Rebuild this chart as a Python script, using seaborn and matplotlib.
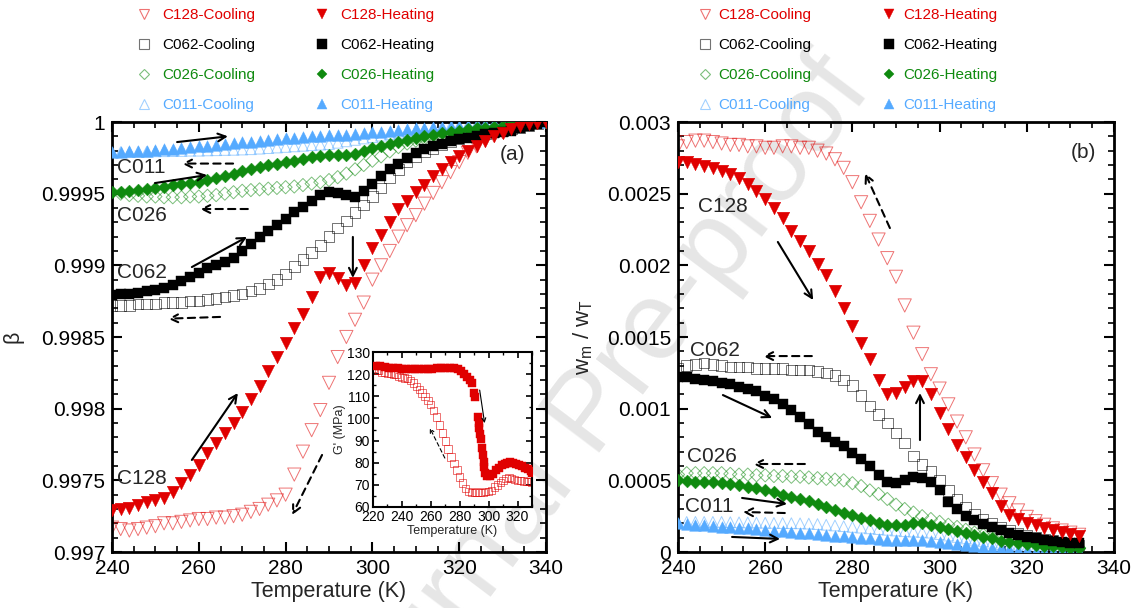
import numpy as np
import matplotlib
matplotlib.use("Agg")
import matplotlib.pyplot as plt
from matplotlib.colors import to_rgba
from matplotlib.lines import Line2D
from matplotlib.ticker import MultipleLocator
import seaborn as sns

sns.set_style("ticks")
plt.rcParams["font.family"] = ["Liberation Sans", "DejaVu Sans"]
plt.rcParams["mathtext.fontset"] = "custom"
plt.rcParams["mathtext.rm"] = "Liberation Sans"
plt.rcParams["mathtext.it"] = "Liberation Sans"

RED = "#e00000"
BLACK = "#000000"
GREEN = "#0f8a0f"
BLUE = "#55aaff"

# ---------------- panel (a): beta vs temperature ----------------
temp_a = np.arange(240, 341, 2)  # K
# 1 - beta, in units of 1e-4
dbeta_c128_heat = [27.1, 27.0, 26.9, 26.7, 26.5, 26.4, 26.2, 25.8, 25.2, 24.6, 23.9, 23.1, 22.4,
                   21.7, 21.0, 20.2, 19.3, 18.4, 17.4, 16.4, 15.4, 14.4, 13.4, 12.2, 10.8, 10.5,
                   10.9, 11.4, 11.2, 10.0, 8.8, 7.9, 7.0, 6.1, 5.5, 4.9, 4.4, 3.8, 3.3, 2.8, 2.35,
                   2.0, 1.65, 1.3, 1.0, 0.75, 0.5, 0.3, 0.15, 0.05, 0.0]
dbeta_c128_cool = [28.3, 28.4, 28.5, 28.4, 28.3, 28.2, 28.0, 28.0, 27.9, 27.8, 27.7, 27.7, 27.6,
                   27.6, 27.5, 27.4, 27.2, 27.0, 26.7, 26.4, 26.0, 24.6, 23.0, 21.5, 20.1, 18.2,
                   16.4, 15.0, 13.8, 12.6, 11.0, 10.0, 9.0, 8.0, 7.2, 6.5, 5.7, 4.95, 4.2, 3.5, 2.8,
                   2.15, 1.7, 1.3, 0.95, 0.7, 0.35, 0.2, 0.1, 0.05, 0.0]
dbeta_c062_heat = [12.1, 12.0, 12.0, 11.9, 11.8, 11.7, 11.6, 11.4, 11.1, 10.8, 10.5, 10.2, 10.0,
                   9.8, 9.5, 9.0, 8.5, 8.0, 7.6, 7.2, 6.8, 6.3, 5.9, 5.5, 5.1, 4.9, 4.95, 5.1, 5.2,
                   4.8, 4.3, 3.8, 3.3, 2.9, 2.5, 2.15, 1.9, 1.7, 1.5, 1.35, 1.2, 1.1, 0.95, 0.85,
                   0.75, 0.7, 0.6, 0.45, 0.3, 0.15, 0.0]
dbeta_c062_cool = [12.8, 12.8, 12.8, 12.7, 12.7, 12.7, 12.6, 12.6, 12.6, 12.5, 12.5, 12.4, 12.3,
                   12.2, 12.1, 12.0, 11.8, 11.6, 11.3, 11.0, 10.6, 10.1, 9.6, 9.1, 8.6, 8.0, 7.4,
                   6.9, 6.3, 5.8, 5.2, 4.6, 3.9, 3.3, 2.8, 2.4, 2.1, 1.85, 1.6, 1.35, 1.15, 1.0,
                   0.9, 0.8, 0.7, 0.6, 0.5, 0.4, 0.25, 0.1, 0.0]
dbeta_c026_heat = [4.9, 4.85, 4.8, 4.75, 4.7, 4.6, 4.5, 4.4, 4.35, 4.25, 4.2, 4.05, 3.9, 3.75,
                   3.6, 3.45, 3.3, 3.15, 3.0, 2.9, 2.8, 2.7, 2.6, 2.45, 2.35, 2.3, 2.3, 2.3, 2.2,
                   2.0, 1.8, 1.65, 1.5, 1.4, 1.25, 1.1, 1.0, 0.9, 0.8, 0.7, 0.6, 0.52, 0.45, 0.4,
                   0.32, 0.25, 0.17, 0.1, 0.05, 0.02, 0.0]
dbeta_c026_cool = [4.9, 5.0, 5.1, 5.15, 5.2, 5.2, 5.25, 5.25, 5.25, 5.2, 5.2, 5.15, 5.1, 5.0,
                   4.9, 4.8, 4.75, 4.7, 4.65, 4.6, 4.55, 4.5, 4.4, 4.3, 4.2, 4.05, 3.85, 3.6, 3.3,
                   3.0, 2.7, 2.4, 2.05, 1.75, 1.5, 1.3, 1.15, 1.05, 0.95, 0.85, 0.8, 0.72, 0.62,
                   0.52, 0.45, 0.4, 0.3, 0.2, 0.12, 0.05, 0.0]
dbeta_c011_heat = [2.1, 2.1, 2.05, 2.0, 2.0, 1.95, 1.9, 1.85, 1.8, 1.75, 1.7, 1.65, 1.6, 1.52,
                   1.47, 1.42, 1.37, 1.3, 1.25, 1.2, 1.15, 1.1, 1.05, 1.0, 0.95, 0.92, 0.9, 0.88,
                   0.82, 0.77, 0.72, 0.67, 0.6, 0.55, 0.5, 0.45, 0.4, 0.37, 0.33, 0.3, 0.27, 0.22,
                   0.17, 0.12, 0.08, 0.04, 0.02, 0.0, 0.0, 0.0, 0.0]
dbeta_c011_cool = [2.1, 2.1, 2.1, 2.08, 2.07, 2.05, 2.04, 2.03, 2.02, 2.0, 2.0, 1.98, 1.97, 1.95,
                   1.94, 1.92, 1.9, 1.86, 1.82, 1.78, 1.74, 1.7, 1.66, 1.62, 1.58, 1.54, 1.45,
                   1.35, 1.25, 1.15, 1.05, 0.95, 0.85, 0.75, 0.65, 0.58, 0.5, 0.43, 0.36, 0.3,
                   0.25, 0.2, 0.15, 0.1, 0.06, 0.03, 0.01, 0.0, 0.0, 0.0, 0.0]

# ---------------- panel (b): w_m / w_T vs temperature ----------------
temp_b = np.arange(240, 333, 2)  # K
# w_m / w_T, in units of 1e-4
wr_c128_cool = [28.3, 28.6, 28.7, 28.7, 28.6, 28.5, 28.4, 28.4, 28.3, 28.3, 28.2, 28.2, 28.3,
                28.3, 28.2, 28.2, 28.0, 27.8, 27.4, 26.8, 25.8, 24.4, 23.1, 21.8, 20.5, 19.2,
                17.2, 15.3, 13.8, 12.4, 11.4, 10.3, 9.1, 8.0, 6.8, 5.7, 4.8, 4.0, 3.4, 2.9, 2.45,
                2.15, 1.9, 1.65, 1.5, 1.35, 1.2]
wr_c128_heat = [27.2, 27.2, 27.1, 26.9, 26.8, 26.6, 26.4, 26.1, 25.7, 25.2, 24.6, 24.0, 23.3,
                22.4, 21.7, 21.0, 20.1, 19.3, 18.2, 17.0, 15.8, 14.6, 13.5, 12.0, 11.0, 11.1,
                11.5, 11.9, 11.9, 11.0, 9.7, 8.6, 7.5, 6.6, 5.7, 4.9, 4.1, 3.2, 2.6, 2.3, 2.0,
                1.85, 1.7, 1.55, 1.4, 1.25, 1.15]
wr_c062_cool = [12.8, 13.0, 13.1, 13.2, 13.1, 13.0, 12.9, 12.9, 12.9, 12.8, 12.8, 12.8, 12.8,
                12.7, 12.7, 12.7, 12.6, 12.5, 12.3, 12.0, 11.6, 10.9, 10.2, 9.6, 9.0, 8.3, 7.6,
                6.7, 6.1, 5.6, 5.0, 4.3, 3.7, 3.1, 2.6, 2.3, 2.0, 1.7, 1.5, 1.3, 1.2, 1.05, 0.9,
                0.8, 0.7, 0.55, 0.5]
wr_c062_heat = [12.2, 12.2, 12.1, 12.0, 11.9, 11.8, 11.7, 11.5, 11.35, 11.2, 10.9, 10.7, 10.3,
                9.9, 9.4, 8.9, 8.4, 8.0, 7.7, 7.4, 6.9, 6.5, 6.0, 5.4, 4.9, 4.8, 5.0, 5.2, 5.15,
                4.9, 4.3, 3.5, 3.0, 2.5, 2.2, 1.95, 1.75, 1.55, 1.35, 1.2, 1.05, 0.95, 0.85,
                0.75, 0.7, 0.65, 0.6]
wr_c026_cool = [5.4, 5.5, 5.5, 5.5, 5.5, 5.5, 5.45, 5.4, 5.4, 5.35, 5.35, 5.3, 5.3, 5.25, 5.25,
                5.2, 5.15, 5.1, 5.05, 5.0, 4.8, 4.6, 4.3, 4.05, 3.7, 3.3, 3.0, 2.75, 2.5, 2.3,
                2.1, 1.9, 1.75, 1.55, 1.35, 1.2, 1.05, 0.95, 0.85, 0.75, 0.65, 0.55, 0.45, 0.4,
                0.35, 0.3, 0.28]
wr_c026_heat = [5.0, 4.95, 4.9, 4.9, 4.85, 4.8, 4.75, 4.65, 4.55, 4.45, 4.3, 4.2, 4.0, 3.85,
                3.7, 3.55, 3.35, 3.15, 2.95, 2.75, 2.55, 2.4, 2.2, 2.05, 1.9, 1.85, 1.9, 2.05,
                2.05, 1.9, 1.75, 1.6, 1.45, 1.3, 1.2, 1.05, 0.95, 0.8, 0.7, 0.62, 0.55, 0.5,
                0.45, 0.4, 0.35, 0.3, 0.28]
wr_c011_cool = [2.1, 2.1, 2.1, 2.1, 2.1, 2.1, 2.08, 2.07, 2.06, 2.05, 2.04, 2.03, 2.02, 2.01,
                2.0, 1.98, 1.95, 1.9, 1.85, 1.8, 1.75, 1.7, 1.65, 1.6, 1.55, 1.5, 1.45, 1.42,
                1.4, 1.35, 1.25, 1.15, 1.05, 0.95, 0.85, 0.75, 0.65, 0.55, 0.45, 0.38, 0.3,
                0.25, 0.2, 0.15, 0.12, 0.1, 0.08]
wr_c011_heat = [2.0, 1.95, 1.9, 1.85, 1.8, 1.75, 1.72, 1.68, 1.64, 1.6, 1.55, 1.5, 1.45, 1.4,
                1.35, 1.3, 1.25, 1.2, 1.15, 1.1, 1.05, 1.0, 0.95, 0.9, 0.85, 0.82, 0.82, 0.85,
                0.82, 0.75, 0.68, 0.62, 0.55, 0.48, 0.42, 0.36, 0.3, 0.25, 0.2, 0.16, 0.12, 0.1,
                0.08, 0.06, 0.05, 0.04, 0.03]

# ---------------- inset: storage modulus G' of C128 ----------------
inset_temp_heat = [222, 225, 228, 231, 234, 237, 240, 243, 246, 249, 252, 255, 258, 261, 264,
                   267, 270, 273, 276, 279, 281, 283, 285, 287, 288.5, 290, 290.3, 292.5, 293,
                   293.5, 294, 294.5, 295.5, 296, 296.5, 297, 297.8, 299, 301, 303, 305, 307,
                   309, 311, 313, 315, 317, 319, 321, 323, 325, 327, 329, 330]
inset_g_heat = [123.5, 123.6, 123.3, 123.0, 122.8, 122.6, 122.5, 122.4, 122.4, 122.3, 122.3,
                122.3, 122.4, 122.5, 122.6, 122.7, 122.8, 122.9, 122.8, 122.2, 121.3, 120.2,
                118.8, 117.2, 115.8, 111.5, 109.5, 100.5, 98.0, 95.5, 93.0, 90.5, 86.5, 83.5,
                80.5, 78.0, 75.5, 74.0, 74.0, 75.0, 76.5, 77.8, 78.8, 79.5, 80.0, 80.2, 80.0,
                79.6, 79.0, 78.3, 77.6, 77.0, 76.2, 75.5]
inset_temp_cool = [220, 222, 224, 226, 228, 230, 232, 234, 236, 238, 240, 242, 244, 246, 248,
                   250, 252, 254, 256, 258, 260, 262, 264, 266, 268, 270, 272, 274, 276, 278,
                   280, 282, 284, 286, 288, 290, 292, 294, 296, 298, 300, 302, 304, 306, 308,
                   310, 312, 314, 316, 318, 320, 322, 324, 326, 328, 330]
inset_g_cool = [122.8, 121.5, 121.5, 120.8, 121.0, 120.5, 120.5, 120.0, 120.0, 119.0, 118.5,
                118.2, 118.0, 117.0, 116.0, 114.5, 113.0, 111.5, 110.0, 108.2, 106.3, 103.5,
                100.6, 97.0, 93.4, 89.8, 86.2, 82.6, 79.5, 76.7, 73.5, 70.8, 68.5, 67.0, 66.5,
                66.5, 66.8, 66.5, 66.5, 67.0, 67.0, 67.5, 69.0, 70.0, 71.0, 72.0, 72.8, 73.2,
                73.0, 72.5, 72.0, 72.0, 71.8, 71.5, 71.5, 71.3]

FIG_W, FIG_H = 1133, 608
fig = plt.figure(figsize=(FIG_W / 100, FIG_H / 100), dpi=100)
fig.patch.set_facecolor("white")


def frac(x0, y0, w, h):
    return [x0 / FIG_W, 1 - (y0 + h) / FIG_H, w / FIG_W, h / FIG_H]


ax_a = fig.add_axes(frac(112, 122, 434, 430))
ax_b = fig.add_axes(frac(678, 122, 436, 430))
ax_in = fig.add_axes(frac(373, 352, 159, 155))


def draw(ax, x, y, marker, color, size, hollow, z=None):
    sns.scatterplot(x=np.asarray(x, float), y=np.asarray(y, float), ax=ax, marker=marker,
                    s=size, color=color, edgecolor=color,
                    linewidth=0.7 if hollow else 0.3, legend=False,
                    zorder=z if z is not None else (2 if hollow else 3))
    coll = ax.collections[-1]
    if hollow:
        coll.set_facecolor("none")
        coll.set_edgecolor(to_rgba(color, 0.55))


def arrow(ax, start, end, dashed=False, lw=1.5, ms=14):
    ax.annotate("", xy=end, xytext=start,
                arrowprops=dict(arrowstyle="->", lw=lw, color="black",
                                linestyle=(0, (3.5, 2.5)) if dashed else "-",
                                shrinkA=0, shrinkB=0, mutation_scale=ms))


def style_axes(ax, labelsize=15, major=7, minor=4, width=1.5, spine=2.0):
    for sp in ax.spines.values():
        sp.set_visible(True)
        sp.set_linewidth(spine)
        sp.set_color("black")
    ax.tick_params(which="both", direction="in", top=True, right=True, colors="black",
                   labelsize=labelsize, pad=5)
    ax.tick_params(which="major", length=major, width=width)
    ax.tick_params(which="minor", length=minor, width=width * 0.8)
    ax.set_facecolor("none")


# ----- panel (a) -----
beta = lambda d: 1 - np.asarray(d) * 1e-4
draw(ax_a, temp_a, beta(dbeta_c011_cool), "^", BLUE, 60, True)
draw(ax_a, temp_a, beta(dbeta_c026_cool), "D", GREEN, 45, True)
draw(ax_a, temp_a, beta(dbeta_c062_cool), "s", BLACK, 58, True)
draw(ax_a, temp_a, beta(dbeta_c128_cool), "v", RED, 90, True)
draw(ax_a, temp_a, beta(dbeta_c011_heat), "^", BLUE, 70, False)
draw(ax_a, temp_a, beta(dbeta_c026_heat), "D", GREEN, 42, False)
draw(ax_a, temp_a, beta(dbeta_c062_heat), "s", BLACK, 62, False)
draw(ax_a, temp_a, beta(dbeta_c128_heat), "v", RED, 82, False)

ax_a.set_xlim(240, 340)
ax_a.set_ylim(0.997, 1.0)
ax_a.xaxis.set_major_locator(MultipleLocator(20))
ax_a.xaxis.set_minor_locator(MultipleLocator(5))
ax_a.set_yticks(np.arange(0.997, 1.00001, 0.0005))
ax_a.set_yticklabels(["0.997", "0.9975", "0.998", "0.9985", "0.999", "0.9995", "1"])
ax_a.yaxis.set_minor_locator(MultipleLocator(0.0001))
style_axes(ax_a)
ax_a.set_xlabel("Temperature (K)", fontsize=15.5, labelpad=2)
ax_a.set_ylabel("β", fontsize=15.5)
ax_a.yaxis.set_label_coords(-0.205, 0.5)

arrow(ax_a, (255, 0.99986), (266.7, 0.99990))
arrow(ax_a, (267.9, 0.99971), (256.1, 0.99971), dashed=True)
arrow(ax_a, (249.9, 0.999574), (261.9, 0.99963))
arrow(ax_a, (271.3, 0.999393), (260.3, 0.999393), dashed=True)
arrow(ax_a, (258.4, 0.998988), (271.1, 0.999198))
arrow(ax_a, (264.9, 0.99864), (252.9, 0.998628), dashed=True)
arrow(ax_a, (295.5, 0.999198), (295.5, 0.998912))
arrow(ax_a, (258.4, 0.997642), (269.0, 0.998109))
arrow(ax_a, (288.4, 0.997677), (281.5, 0.997258), dashed=True)

for txt, yv in [("C011", 0.99968), ("C026", 0.99935), ("C062", 0.99895), ("C128", 0.997516)]:
    ax_a.text(241.2, yv, txt, fontsize=15, ha="left", va="center")
ax_a.text(332.2, 0.99977, "(a)", fontsize=15, ha="center", va="center")

# ----- panel (b) -----
wr = lambda v: np.asarray(v) * 1e-4
draw(ax_b, temp_b, wr(wr_c011_cool), "^", BLUE, 60, True)
draw(ax_b, temp_b, wr(wr_c026_cool), "D", GREEN, 45, True)
draw(ax_b, temp_b, wr(wr_c062_cool), "s", BLACK, 58, True)
draw(ax_b, temp_b, wr(wr_c128_cool), "v", RED, 90, True)
draw(ax_b, temp_b, wr(wr_c011_heat), "^", BLUE, 70, False)
draw(ax_b, temp_b, wr(wr_c026_heat), "D", GREEN, 42, False)
draw(ax_b, temp_b, wr(wr_c062_heat), "s", BLACK, 62, False)
draw(ax_b, temp_b, wr(wr_c128_heat), "v", RED, 82, False)

ax_b.set_xlim(240, 340)
ax_b.set_ylim(0, 0.003)
ax_b.xaxis.set_major_locator(MultipleLocator(20))
ax_b.xaxis.set_minor_locator(MultipleLocator(5))
ax_b.set_yticks(np.arange(0, 0.00301, 0.0005))
ax_b.set_yticklabels(["0", "0.0005", "0.001", "0.0015", "0.002", "0.0025", "0.003"])
ax_b.yaxis.set_minor_locator(MultipleLocator(0.0001))
style_axes(ax_b)
ax_b.set_xlabel("Temperature (K)", fontsize=15.5, labelpad=2)
ax_b.set_ylabel(r"$\mathregular{w_m\ /\ w_T}$", fontsize=16)
ax_b.yaxis.set_label_coords(-0.19, 0.5)

arrow(ax_b, (288.6, 0.00226), (282.9, 0.002644), dashed=True)
arrow(ax_b, (262.9, 0.002163), (271.0, 0.001758))
arrow(ax_b, (295.5, 0.000781), (295.5, 0.001109))
arrow(ax_b, (270.7, 0.001367), (259.5, 0.001367), dashed=True)
arrow(ax_b, (250.3, 0.001095), (261.6, 0.000935))
arrow(ax_b, (269.1, 0.000614), (257.2, 0.000614), dashed=True)
arrow(ax_b, (254.7, 0.000377), (265.0, 0.000335))
arrow(ax_b, (264.5, 0.000272), (254.9, 0.000279), dashed=True)
arrow(ax_b, (252.4, 0.000105), (263.4, 0.000091))

for txt, xv, yv in [("C128", 244.6, 0.002407), ("C062", 242.8, 0.001409),
                    ("C026", 242.0, 0.000663), ("C011", 241.6, 0.000314)]:
    ax_b.text(xv, yv, txt, fontsize=15, ha="left", va="center")
ax_b.text(332.9, 0.002784, "(b)", fontsize=15, ha="center", va="center")

# ----- inset -----
draw(ax_in, inset_temp_cool, inset_g_cool, "s", RED, 28, True, z=2)
draw(ax_in, inset_temp_heat, inset_g_heat, "s", RED, 40, False, z=3)
ax_in.set_xlim(220, 330)
ax_in.set_ylim(60, 130)
ax_in.xaxis.set_major_locator(MultipleLocator(20))
ax_in.xaxis.set_minor_locator(MultipleLocator(10))
ax_in.yaxis.set_major_locator(MultipleLocator(10))
ax_in.yaxis.set_minor_locator(MultipleLocator(5))
style_axes(ax_in, labelsize=10, major=4, minor=2, width=1.2, spine=1.5)
ax_in.tick_params(pad=2)
ax_in.set_facecolor("white")
ax_in.set_xlabel("Temperature (K)", fontsize=9, labelpad=1)
ax_in.set_ylabel("G' (MPa)", fontsize=9, labelpad=1)
arrow(ax_in, (293.8, 112.8), (297.2, 97.9), lw=0.8, ms=7)
arrow(ax_in, (269.7, 82.1), (259.3, 95.7), dashed=True, lw=0.8, ms=7)

# ----- legends -----
series = [("C128-Cooling", "v", RED, True), ("C062-Cooling", "s", BLACK, True),
          ("C026-Cooling", "D", GREEN, True), ("C011-Cooling", "^", BLUE, True),
          ("C128-Heating", "v", RED, False), ("C062-Heating", "s", BLACK, False),
          ("C026-Heating", "D", GREEN, False), ("C011-Heating", "^", BLUE, False)]


def make_handles():
    hs = []
    for lab, m, c, hollow in series:
        ms = 5.5 if m == "D" else 6.5
        hs.append(Line2D([], [], linestyle="none", marker=m, markersize=ms,
                         markerfacecolor="none" if hollow else c,
                         markeredgecolor=to_rgba(c, 0.55) if hollow else c,
                         markeredgewidth=0.8 if hollow else 0.3, label=lab))
    return hs


for x_left, pad, colsp in ((133, 0.7, 3.9), (694, 0.4, 4.6)):
    leg = fig.legend(handles=make_handles(), loc="upper left",
                     bbox_to_anchor=(x_left / FIG_W, 1 - 5 / FIG_H), ncol=2, frameon=False,
                     fontsize=11, handlelength=1.0, handletextpad=pad, columnspacing=colsp,
                     labelspacing=1.05, borderaxespad=0, borderpad=0.2)
    for t, (_, _, c, _) in zip(leg.get_texts(), series):
        t.set_color(c)

# ----- background watermark -----
fig.text(592 / FIG_W, 1 - 415 / FIG_H, "Journal Pre-proof", rotation=53, fontsize=80,
         color="#e6e6e6", ha="center", va="center", zorder=-10)

fig.savefig("out.png", dpi=100)
